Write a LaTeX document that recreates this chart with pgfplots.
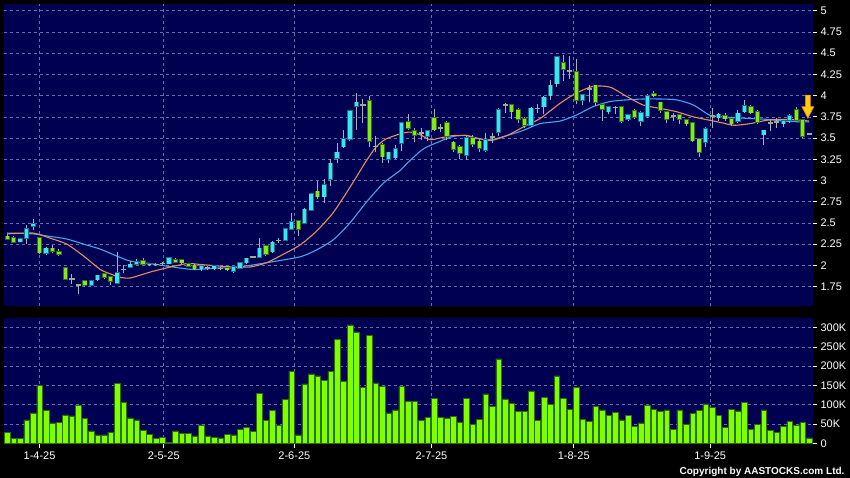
\documentclass[border=0pt]{standalone}
\usepackage{pgfplots}
\pgfplotsset{compat=1.18}
\usepackage{pgfplotstable}
\usepackage{fontspec}
\setmainfont{Liberation Sans}

\definecolor{navyBG}{RGB}{0,0,82}
\definecolor{gridC}{RGB}{100,110,170}
\definecolor{upB}{RGB}{60,228,240}
\definecolor{upO}{RGB}{20,110,140}
\definecolor{dnB}{RGB}{132,232,30}
\definecolor{dnO}{RGB}{50,110,20}
\definecolor{dojiC}{RGB}{150,178,140}
\definecolor{wickC}{RGB}{170,175,200}
\definecolor{maO}{RGB}{232,140,100}
\definecolor{maB}{RGB}{70,165,235}
\definecolor{volF}{RGB}{128,255,0}
\definecolor{volD}{RGB}{40,110,0}
\definecolor{arrF}{RGB}{255,205,0}
\definecolor{arrD}{RGB}{220,140,0}

\pgfdeclareplotmark{dnarrow}{%
  \pgfpathmoveto{\pgfqpoint{-2.5pt}{11.5pt}}%
  \pgfpathlineto{\pgfqpoint{2.5pt}{11.5pt}}%
  \pgfpathlineto{\pgfqpoint{2.5pt}{0pt}}%
  \pgfpathlineto{\pgfqpoint{6pt}{0pt}}%
  \pgfpathlineto{\pgfqpoint{0pt}{-11.5pt}}%
  \pgfpathlineto{\pgfqpoint{-6pt}{0pt}}%
  \pgfpathlineto{\pgfqpoint{-2.5pt}{0pt}}%
  \pgfpathclose
  \pgfusepathqfillstroke}

% day index, open, high, low, close
\pgfplotstableread{
i o h l c
2 2.28 2.32 2.27 2.31
3 2.32 2.47 2.25 2.43
4 2.46 2.55 2.41 2.49
6 2.14 2.22 2.12 2.20
13 1.77 1.83 1.76 1.82
14 1.83 1.89 1.82 1.88
17 1.79 2.16 1.78 1.91
19 1.98 2.05 1.97 2.01
20 2.01 2.07 2.00 2.04
22 2.01 2.03 1.99 2.02
25 2.02 2.10 2.01 2.09
30 1.96 2.00 1.93 1.99
32 1.96 2.00 1.95 1.99
35 1.93 1.99 1.91 1.98
36 1.97 2.04 1.96 2.03
37 2.03 2.09 2.02 2.08
39 2.10 2.32 2.09 2.20
41 2.16 2.29 2.15 2.27
43 2.30 2.44 2.29 2.43
44 2.43 2.62 2.42 2.51
46 2.50 2.67 2.49 2.66
47 2.65 2.85 2.64 2.84
49 2.81 3.02 2.73 2.95
50 3.02 3.25 2.94 3.20
51 3.26 3.44 3.20 3.33
52 3.40 3.60 3.38 3.49
53 3.49 3.83 3.46 3.82
54 3.88 4.03 3.60 3.92
59 3.25 3.34 3.21 3.33
60 3.27 3.42 3.25 3.37
61 3.44 3.69 3.35 3.68
65 3.52 3.60 3.47 3.58
71 3.30 3.52 3.24 3.50
74 3.36 3.56 3.34 3.48
76 3.57 3.85 3.52 3.83
81 3.65 3.87 3.63 3.85
83 3.87 4.00 3.78 3.98
84 4.00 4.18 3.95 4.12
85 4.14 4.47 4.10 4.46
89 3.95 4.02 3.89 4.01
93 3.81 3.88 3.78 3.87
96 3.72 3.78 3.70 3.77
98 3.70 3.82 3.64 3.80
99 3.76 4.02 3.74 4.00
108 3.45 3.63 3.40 3.61
110 3.74 3.80 3.70 3.78
113 3.70 3.83 3.68 3.79
114 3.81 3.95 3.80 3.88
117 3.54 3.59 3.42 3.59
120 3.67 3.72 3.63 3.70
121 3.71 3.78 3.68 3.76
}\upT

\pgfplotstableread{
i o h l c
0 2.34 2.37 2.31 2.31
1 2.32 2.34 2.27 2.27
5 2.32 2.33 2.13 2.15
7 2.20 2.24 2.14 2.17
8 2.16 2.19 2.11 2.13
9 1.97 1.97 1.84 1.84
12 1.82 1.83 1.74 1.77
15 1.90 1.91 1.84 1.86
16 1.86 1.87 1.77 1.81
21 2.05 2.08 2.00 2.01
26 2.06 2.08 2.03 2.04
27 2.06 2.07 2.02 2.03
28 2.02 2.03 1.98 1.99
29 2.00 2.01 1.95 1.96
34 1.97 1.98 1.93 1.95
40 2.23 2.24 2.11 2.13
45 2.52 2.53 2.35 2.43
48 2.87 2.99 2.78 2.81
56 3.94 4.00 3.40 3.46
58 3.42 3.44 3.21 3.28
62 3.69 3.78 3.60 3.62
63 3.58 3.62 3.45 3.53
66 3.74 3.84 3.58 3.60
68 3.68 3.70 3.48 3.52
69 3.45 3.47 3.33 3.37
70 3.40 3.42 3.25 3.32
72 3.50 3.54 3.40 3.43
73 3.46 3.49 3.34 3.38
78 3.89 3.90 3.72 3.81
79 3.83 3.85 3.68 3.72
80 3.73 3.75 3.62 3.65
86 4.39 4.48 4.17 4.31
88 4.28 4.43 3.90 3.95
91 4.12 4.13 3.88 3.92
92 3.89 3.90 3.70 3.84
95 3.87 3.88 3.68 3.70
97 3.82 3.84 3.72 3.75
100 4.02 4.05 3.98 4.00
101 3.92 3.93 3.80 3.83
102 3.81 3.82 3.68 3.72
104 3.77 3.78 3.66 3.72
105 3.71 3.72 3.64 3.67
106 3.68 3.69 3.45 3.47
107 3.49 3.50 3.28 3.33
111 3.76 3.79 3.70 3.73
112 3.73 3.75 3.64 3.67
115 3.87 3.89 3.78 3.80
116 3.81 3.83 3.67 3.69
122 3.83 3.86 3.70 3.71
123 3.71 3.72 3.50 3.52
}\dnT

\pgfplotstableread{
i o h l c
10 1.84 1.90 1.78 1.84
11 1.77 1.78 1.66 1.77
18 1.95 2.00 1.91 1.95
23 2.01 2.03 1.99 2.01
24 2.02 2.04 2.00 2.02
31 1.97 1.99 1.95 1.97
33 1.96 1.98 1.94 1.96
38 2.10 2.11 2.08 2.10
42 2.29 2.32 2.26 2.29
55 3.89 3.96 3.68 3.89
57 3.40 3.52 3.33 3.40
64 3.56 3.62 3.48 3.56
67 3.62 3.66 3.57 3.62
75 3.51 3.56 3.44 3.51
77 3.89 3.91 3.80 3.89
82 3.85 3.90 3.80 3.85
87 4.29 4.47 4.20 4.29
90 4.08 4.13 3.92 4.08
94 3.86 3.88 3.78 3.86
103 3.76 3.80 3.70 3.76
109 3.76 3.85 3.62 3.76
118 3.68 3.72 3.58 3.68
119 3.69 3.74 3.62 3.69
124 3.55 3.56 3.54 3.55
}\djT

% moving averages read off the chart
\pgfplotstableread{
i p
0 2.37
4 2.38
6.6 2.32
9.2 2.25
11.8 2.11
14.4 1.95
15.9 1.90
17.4 1.86
19 1.85
22.1 1.92
24.7 1.97
27.8 2.02
29.8 2.01
32.9 1.99
35 1.98
37.6 1.98
40.1 2.03
42.7 2.13
45.3 2.24
47.8 2.40
50.4 2.62
53 2.92
55.6 3.24
57.1 3.40
58.6 3.49
60.8 3.55
62.3 3.57
63.8 3.54
65.4 3.48
66.9 3.50
69 3.53
71.1 3.53
72.1 3.51
74.7 3.47
77.3 3.53
79.8 3.63
82.4 3.73
85.5 3.91
88 4.03
90.6 4.11
93.2 4.10
95.8 3.99
98.3 3.89
100.9 3.85
103.5 3.81
106.1 3.75
108.6 3.71
110.5 3.68
112.4 3.65
114.9 3.67
117.5 3.71
120.1 3.72
122.7 3.71
124 3.70
}\maOT

\pgfplotstableread{
i p
0 2.38
4 2.37
6.6 2.34
9.2 2.31
11.8 2.25
14.4 2.19
16.9 2.11
19 2.05
22.1 2.02
24.7 1.99
28.8 1.95
32.9 1.97
35 1.97
40.1 2.03
45.3 2.10
47.8 2.18
50.4 2.30
53 2.50
55.6 2.75
58.2 2.97
60.8 3.12
61.8 3.20
64.3 3.37
66.9 3.46
69 3.52
71.1 3.53
72.1 3.50
74.7 3.48
77.3 3.53
79.8 3.59
82.4 3.67
85.5 3.70
88 3.77
90.6 3.87
93.2 3.93
95.8 3.95
98.3 3.96
100.9 3.96
103.5 3.95
106.1 3.89
108.6 3.77
110.5 3.75
112.4 3.74
114.9 3.73
117.5 3.72
120.1 3.70
122.7 3.69
124 3.69
}\maBT

% volume in thousands
\pgfplotstableread{
i v
0 29
1 13
2 13
3 61
4 79
5 150
6 86
7 53
8 55
9 74
10 71
11 98
12 64
13 32
14 22
15 22
16 29
17 156
18 107
19 66
20 61
21 33
22 24
23 13
24 15
25 3
26 32
27 25
28 26
29 19
30 48
31 19
32 16
33 14
34 24
35 22
36 37
37 41
38 30
39 130
40 60
41 85
42 47
43 114
44 187
45 22
46 154
47 180
48 175
49 163
50 186
51 270
52 160
53 307
54 289
55 145
56 280
57 157
58 148
59 79
60 87
61 147
62 108
63 108
64 59
65 67
66 117
67 67
68 66
69 69
70 55
71 117
72 49
73 62
74 128
75 95
76 219
77 115
78 103
79 82
80 82
81 136
82 60
83 120
84 101
85 175
86 117
87 88
88 145
89 62
90 56
91 95
92 87
93 73
94 81
95 61
96 73
97 44
98 53
99 99
100 88
101 83
102 87
103 37
104 87
105 49
106 77
107 85
108 102
109 93
110 72
111 42
112 88
113 84
114 107
115 36
116 49
117 87
118 34
119 28
120 44
121 56
122 46
123 55
124 14
}\volT

\pgfplotsset{
  panel/.style={
    scale only axis, width=809pt, xmin=-0.5, xmax=124.6,
    axis background/.style={fill=navyBG},
    axis line style={draw=none},
    xtick={5,24.2,44.4,65.6,87.6,108.7},
    xmajorgrids, ymajorgrids,
    grid style={dash pattern=on 3pt off 3pt, gridC, line width=0.6pt},
    ytick pos=right, yticklabel pos=right,
    tick align=outside, major tick length=4pt,
    tick style={white, line width=0.7pt},
    ticklabel style={font=\fontsize{11}{12}\selectfont, text=white},
  },
  body/.style 2 args={draw=none, mark=none, error bars/.cd, y dir=plus, y explicit,
    error mark=none, error bar style={draw=#1, line width=#2}},
}

\begin{document}
\begin{tikzpicture}
\fill[black] (0,0) rectangle (850pt,478pt);
\useasboundingbox (0,0) rectangle (850pt,478pt);

\begin{axis}[panel, at={(4pt,172pt)}, anchor=south west, height=302pt,
  ymin=1.52, ymax=5.08,
  ytick={1.75,2,2.25,2.5,2.75,3,3.25,3.5,3.75,4,4.25,4.5,4.75,5},
  yticklabels={1.75,2,2.25,2.5,2.75,3,3.25,3.5,3.75,4,4.25,4.5,4.75,5},
  xticklabels={}, xtick style={draw=none}]
\addplot[maB, line width=1.1pt, smooth, tension=0.4] table[x=i,y=p] \maBT;
\addplot[maO, line width=1.1pt, smooth, tension=0.4] table[x=i,y=p] \maOT;
% wicks
\addplot[body={wickC}{1pt}] table[x=i, y=l, y error plus expr=\thisrow{h}-\thisrow{l}] \upT;
\addplot[body={wickC}{1pt}] table[x=i, y=l, y error plus expr=\thisrow{h}-\thisrow{l}] \dnT;
\addplot[body={wickC}{1pt}] table[x=i, y=l, y error plus expr=\thisrow{h}-\thisrow{l}] \djT;
% up bodies
\addplot[body={upO}{5.2pt}]
  table[x=i, y expr=\thisrow{o}-0.009, y error plus expr=\thisrow{c}-\thisrow{o}+0.018] \upT;
\addplot[body={upB}{3.4pt}]
  table[x=i, y=o, y error plus expr=\thisrow{c}-\thisrow{o}] \upT;
% down bodies
\addplot[body={dnO}{5.2pt}]
  table[x=i, y expr=\thisrow{c}-0.009, y error plus expr=\thisrow{o}-\thisrow{c}+0.018] \dnT;
\addplot[body={dnB}{3.4pt}]
  table[x=i, y=c, y error plus expr=\thisrow{o}-\thisrow{c}] \dnT;
% doji
\addplot[only marks, mark=-, mark size=2.6pt, mark options={draw=dojiC, line width=1.6pt}]
  table[x=i, y=c] \djT;
% last-day arrow
\addplot[only marks, mark=dnarrow, mark options={fill=arrF, draw=arrD, line width=0.6pt}]
  coordinates {(123.8,3.87)};
\end{axis}

\begin{axis}[panel, at={(4pt,34pt)}, anchor=south west, height=126pt,
  ymin=-1.8, ymax=325,
  ytick={0,50,100,150,200,250,300},
  yticklabels={0,50K,100K,150K,200K,250K,300K},
  xtick pos=left,
  xticklabels={1-4-25,2-5-25,2-6-25,2-7-25,1-8-25,1-9-25}]
\addplot[ybar, bar width=5.6pt, fill=volF, draw=volD, line width=0.5pt]
  table[x=i, y=v] \volT;
\end{axis}

\node[anchor=east, text=white, font=\bfseries\fontsize{10}{11}\selectfont]
  at (848pt,6.5pt) {Copyright by AASTOCKS.com Ltd.};
\end{tikzpicture}
\end{document}
